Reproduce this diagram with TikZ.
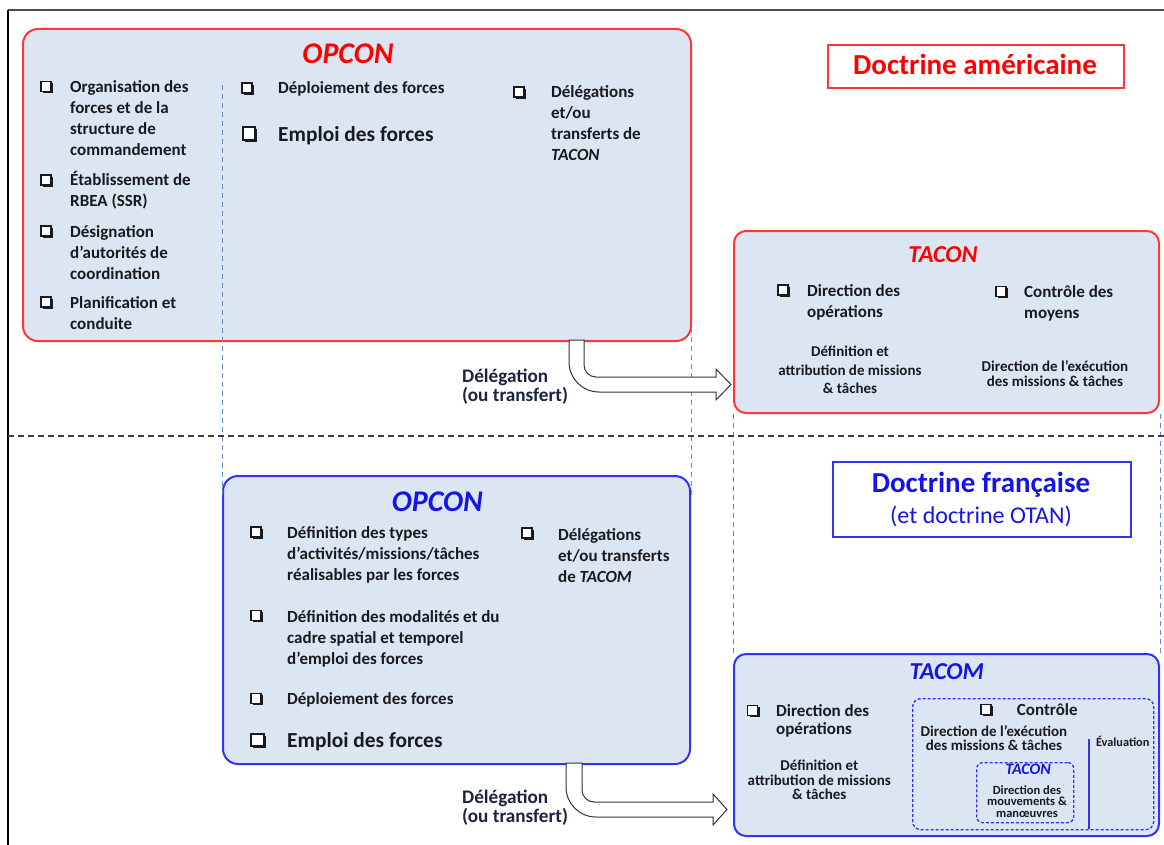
\documentclass[tikz,border=0pt]{standalone}
\usepackage{fontspec}
\setmainfont{Carlito}
\usetikzlibrary{shadows,calc}
\definecolor{boxfill}{RGB}{220,230,242}
\definecolor{usred}{RGB}{255,55,55}
\definecolor{titlered}{RGB}{255,0,0}
\definecolor{frblue}{RGB}{50,50,250}
\definecolor{titleblue}{RGB}{20,20,230}
\definecolor{guide}{RGB}{100,140,200}
\definecolor{ink}{RGB}{25,25,30}
\definecolor{lblink}{RGB}{28,35,64}
\newcommand{\fsz}[2]{\fontsize{#1}{#2}\selectfont}
\tikzset{
  bigbox/.style={rounded corners=15pt, fill=boxfill, line width=2pt, anchor=north west, inner sep=0pt},
  usbox/.style={bigbox, draw=usred},
  frbox/.style={bigbox, draw=frblue},
  dbox/.style={draw=frblue, line width=1.3pt, dash pattern=on 3pt off 2pt, rounded corners=8pt, anchor=north west, inner sep=0pt},
  txt/.style={anchor=base west, align=left, inner sep=0pt, text=ink, font=\bfseries\fsz{17}{21}},
  bigtxt/.style={txt, font=\bfseries\fsz{21.4}{24}},
  ctxt/.style={anchor=base, align=center, inner sep=0pt, text=ink, font=\bfseries\fsz{15}{18.3}},
  bul/.style={draw=ink, line width=1.4pt, fill=white, minimum size=10pt, inner sep=0pt,
    general shadow={fill=ink, shadow xshift=1.8pt, shadow yshift=-1.8pt}},
  bigbul/.style={bul, minimum size=12.5pt, line width=1.6pt},
  ttl/.style={anchor=base, inner sep=0pt, font=\bfseries\itshape\fsz{30}{30}},
  guideline/.style={draw=guide, line width=1pt, dash pattern=on 5pt off 4pt},
  sepline/.style={draw=black!75, line width=1.8pt, dash pattern=on 6pt off 4pt},
  blockarrow/.style={draw=black!80, line width=1pt, fill=white},
  lbl/.style={anchor=base west, align=left, inner sep=0pt, text=lblink, font=\bfseries\fsz{19.2}{16}},
}
\begin{document}
% note: the base anchor of a multi-line node is the baseline of its LAST line
\begin{tikzpicture}[x=1pt,y=-1pt]
\useasboundingbox (0,0) rectangle (1164,845);
% frame
\draw[line width=1.5pt, black!70] (8,10) -- (1164,10);
\draw[line width=1.5pt, black] (8,10) -- (8,845);

% boxes
\node[usbox, minimum width=668pt, minimum height=312pt] (opconUS) at (22,28) {};
\node[usbox, rounded corners=12pt, minimum width=425pt, minimum height=182pt] (taconUS) at (733,230) {};
\node[frbox, minimum width=467pt, minimum height=288pt] (opconFR) at (222,475) {};
\node[frbox, rounded corners=12pt, minimum width=425pt, minimum height=182pt] (tacomFR) at (733,653) {};

% guide lines
\draw[guideline] (opconFR.west |- 0,85) -- ($(opconFR.north west)+(0,20)$);
\draw[guideline] (opconFR.east |- 0,328) -- ($(opconFR.north east)+(0,20)$);
\draw[guideline] (taconUS.south west) -- (tacomFR.north west);
\draw[guideline] (taconUS.south east) -- (tacomFR.north east);
\draw[sepline] (8,436) -- (1164,436);

% doctrine boxes
\node[draw=usred, line width=1.8pt, minimum width=296pt, minimum height=43pt, anchor=north west, inner sep=0pt] (docUS) at (827,44) {};
\node[anchor=base, inner sep=0pt, text=titlered, font=\bfseries\fsz{29}{30}] (docUSt) at (975,75) {Doctrine américaine};
\node[draw=frblue, line width=1.8pt, minimum width=298pt, minimum height=75pt, anchor=north west, inner sep=0pt] (docFR) at (832,461) {};
\node[anchor=base, inner sep=0pt, text=titleblue, font=\bfseries\fsz{29}{30}] (docFRt) at (981,492) {Doctrine française};
\node[anchor=base, inner sep=0pt, text=titleblue, font=\fsz{24}{26}] (docFRs) at (981,523) {(et doctrine OTAN)};

% ===== OPCON US =====
\node[ttl, text=titlered] (tOpUS) at (348,63.3) {OPCON};
\node[bul] (b1) at (46,86.5) {};
\node[txt] (u1) at (70,156) {Organisation des\\forces et de la\\structure de\\commandement};
\node[bul] (b2) at (46,180) {};
\node[txt] (u2) at (70,207) {Établissement de\\RBEA (SSR)};
\node[bul] (b3) at (46,231) {};
\node[txt] (u3) at (70,279) {Désignation\\d’autorités de\\coordination};
\node[bul] (b4) at (46,302) {};
\node[txt] (u4) at (70,329) {Planification et\\conduite};
\node[bul] (b5) at (247,88) {};
\node[txt] (u5) at (278,94) {Déploiement des forces};
\node[bigbul] (b6) at (249,133.5) {};
\node[bigtxt] (u6) at (278,141.7) {Emploi des forces};
\node[bul] (b7) at (519,92) {};
\node[txt] (u7) at (551,161) {Délégations\\et/ou\\transferts de\\\textit{TACON}};

% ===== TACON US =====
\node[ttl, text=titlered, font=\bfseries\itshape\fsz{24.3}{26}] (tTaUS) at (943,262.7) {TACON};
\node[bul] (b8) at (783,290) {};
\node[txt] (v1) at (807,317) {Direction des\\opérations};
\node[bul] (b9) at (1001,291.5) {};
\node[txt] (v2) at (1024,318.3) {Contrôle des\\moyens};
\node[ctxt] (v3) at (850,393.3) {Définition et\\attribution de missions\\\& tâches};
\node[ctxt, font=\bfseries\fsz{15}{14.5}] (v4) at (1055,386) {Direction de l’exécution\\des missions \& tâches};

% arrow US
\draw[blockarrow] (569,340) -- (569,362) .. controls (569,378.6) and (582.4,392) .. (599,392)
  -- (716,392) -- (716,400) -- (731,384.5) -- (716,369) -- (716,377) -- (596,377)
  .. controls (589.4,377) and (584,371.6) .. (584,365) -- (584,340) -- cycle;
\node[lbl] (l1) at (462,401) {Délégation\\(ou transfert)};

% ===== OPCON FR =====
\node[ttl, text=titleblue] (tOpFR) at (437.3,511.7) {OPCON};
\node[bul] (c1) at (256,532) {};
\node[txt] (w1) at (287,580.3) {Définition des types\\d’activités/missions/tâches\\réalisables par les forces};
\node[bul] (c2) at (256,615.3) {};
\node[txt] (w2) at (287,664.3) {Définition des modalités et du\\cadre spatial et temporel\\d’emploi des forces};
\node[bul] (c3) at (256,698.3) {};
\node[txt] (w3) at (287,704.3) {Déploiement des forces};
\node[bigbul] (c4) at (257.5,740) {};
\node[bigtxt] (w4) at (287,747.3) {Emploi des forces};
\node[bul] (c5) at (527,533) {};
\node[txt] (w5) at (558,582) {Délégations\\et/ou transferts\\de \textit{TACOM}};

% ===== TACOM FR =====
\node[ttl, text=titleblue, font=\bfseries\itshape\fsz{24.3}{26}] (tTaFR) at (946.7,679.3) {TACOM};
\node[bul] (c6) at (752.7,710.5) {};
\node[txt, font=\bfseries\fsz{17}{18.5}] (x1) at (776,734.5) {Direction des\\opérations};
\node[ctxt, font=\bfseries\fsz{15}{14.5}] (x2) at (819.3,799.7) {Définition et\\attribution de missions\\\& tâches};
\node[dbox, minimum width=241pt, minimum height=131pt] (ctrl) at (912,698) {};
\node[bul] (c7) at (986,709.5) {};
\node[txt] (x3) at (1016.7,715) {Contrôle};
\node[ctxt, font=\bfseries\fsz{15}{13.5}] (x4) at (994,750.2) {Direction de l’exécution\\des missions \& tâches};
\draw[frblue, line width=1.3pt] (1089,739) -- (1089,829);
\node[anchor=base, inner sep=0pt, text=ink, font=\bfseries\fsz{12.3}{13}] (x5) at (1122.7,746) {Évaluation};
\node[dbox, rounded corners=6pt, minimum width=97pt, minimum height=60pt] (inTa) at (976,762) {};
\node[ttl, text=titleblue, font=\bfseries\itshape\fsz{16}{17}] (x6) at (1028,774) {TACON};
\node[ctxt, font=\bfseries\fsz{12.5}{11.7}] (x7) at (1027,817.4) {Direction des\\mouvements \&\\manœuvres};

% arrow FR
\draw[blockarrow] (566,763) -- (566,787) .. controls (566,803.6) and (579.4,817) .. (596,817)
  -- (713,817) -- (713,825) -- (727,809.5) -- (713,794) -- (713,802) -- (594,802)
  .. controls (587.4,802) and (582,796.6) .. (582,790) -- (582,763) -- cycle;
\node[lbl] (l2) at (462,822) {Délégation\\(ou transfert)};
\end{tikzpicture}
\end{document}
